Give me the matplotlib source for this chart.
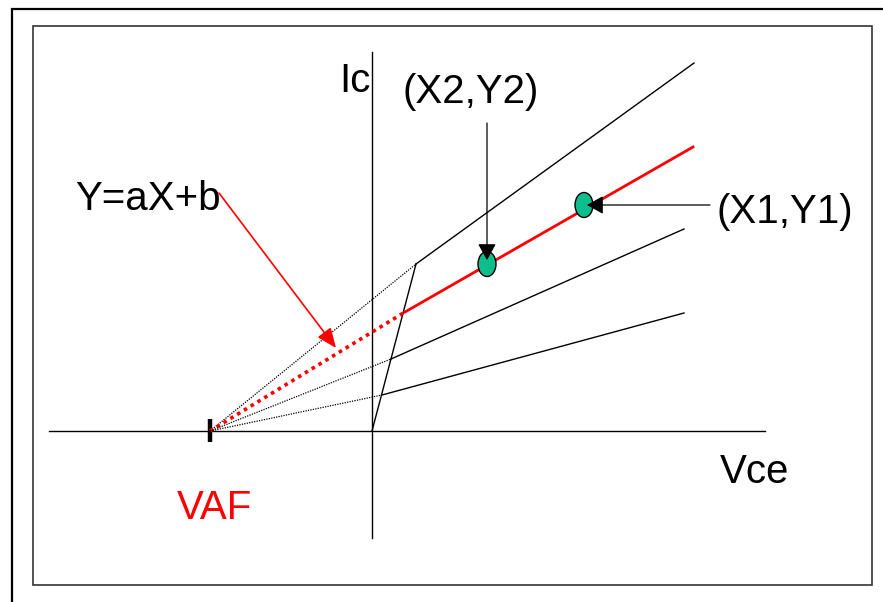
import matplotlib
matplotlib.use("Agg")
import matplotlib.pyplot as plt
from matplotlib.patches import Ellipse, Rectangle

plt.rcParams['font.family'] = ['Liberation Sans', 'DejaVu Sans']

# Early-voltage sketch, origin at the Vce/Ic axis crossing
vaf = -162
sat_line_x = [0, 44]          # saturation line from origin to knee
sat_line_y = [0, 167]

# each output characteristic: start on the saturation line -> end point
curve_start_x = [44, 33, 19, 10]
curve_start_y = [167, 119, 72, 36]
curve_end_x = [322, 321, 312, 312]
curve_end_y = [368, 284, 202, 118]
curve_colors = ['black', 'red', 'black', 'black']

point_names = ['(X2,Y2)', '(X1,Y1)']
point_x = [115, 212]
point_y = [167, 226]

# axis extents
haxis_x = [-323, 393]
vaxis_y = [-107, 379]

fig = plt.figure(figsize=(8.83, 6.02), dpi=100)
ax = fig.add_axes([0, 0, 1, 1])
ax.set_xlim(-372, 511)
ax.set_ylim(-171, 431)
ax.axis('off')

# frames
ax.add_patch(Rectangle((-360, -300), 1000, 722, fill=False, ec='black', lw=1.6))
ax.add_patch(Rectangle((-339, -154), 839, 559, fill=False, ec='#333333', lw=1.2))

# axes
ax.plot(haxis_x, [0, 0], color='black', lw=1.0)
ax.plot([0, 0], vaxis_y, color='black', lw=1.0)
ax.plot([vaf, vaf], [-11, 12], color='black', lw=3.2, solid_capstyle='butt')

# saturation line
ax.plot(sat_line_x, sat_line_y, color='black', lw=1.0)

# output characteristics with dotted extrapolation back to VAF
for sx, sy, ex, ey, c in zip(curve_start_x, curve_start_y, curve_end_x, curve_end_y, curve_colors):
    if c == 'red':
        ax.plot([vaf, sx], [0, sy], color='red', lw=2.6, linestyle=(0, (1, 1.2)))
        ax.plot([sx, ex], [sy, ey], color='red', lw=2.0)
    else:
        ax.plot([vaf, sx], [0, sy], color='black', lw=0.9, linestyle=(0, (1.0, 1.0)))
        ax.plot([sx, ex], [sy, ey], color='black', lw=1.0)

# measured points
for px, py in zip(point_x, point_y):
    ax.add_patch(Ellipse((px, py), 18, 25, fc='#0DBD8C', ec='black', lw=1.0, zorder=5))

arrow_k = dict(arrowstyle='-|>,head_length=0.5,head_width=0.28', color='black',
               lw=0.9, mutation_scale=20, shrinkA=0, shrinkB=0)
ax.annotate('', xy=(point_x[0], point_y[0] + 4), xytext=(point_x[0], 308),
            arrowprops=arrow_k, zorder=6)
ax.annotate('', xy=(point_x[1] + 3, point_y[1]), xytext=(338, point_y[1]),
            arrowprops=arrow_k, zorder=6)
ax.annotate('', xy=(-36, 83), xytext=(-153, 238),
            arrowprops=dict(arrowstyle='-|>,head_length=0.6,head_width=0.25', color='red',
                            lw=1.2, mutation_scale=20, shrinkA=0, shrinkB=0))

# labels
fs = 29
ax.text(-17, 339, 'Ic', fontsize=fs, ha='center', va='baseline')
ax.text(99, 328, point_names[0], fontsize=fs, ha='center', va='baseline')
ax.text(413, 208, point_names[1], fontsize=fs, ha='center', va='baseline')
ax.text(-224, 221, 'Y=aX+b', fontsize=fs, ha='center', va='baseline')
ax.text(383, -52, 'Vce', fontsize=fs, ha='center', va='baseline')
ax.text(-158, -88, 'VAF', fontsize=fs, ha='center', va='baseline', color='red')

fig.savefig('out.png', dpi=100)
